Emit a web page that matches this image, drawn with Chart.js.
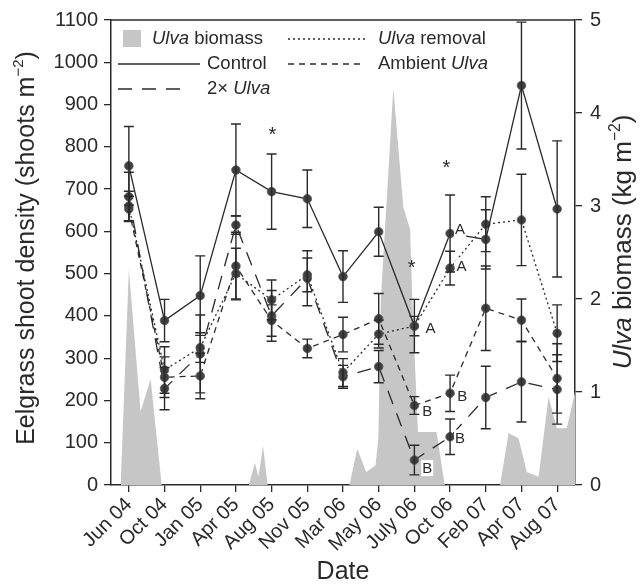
<!DOCTYPE html>
<html>
<head>
<meta charset="utf-8">
<script src="https://cdn.jsdelivr.net/npm/chart.js@4"></script>
<style>
  html, body { margin: 0; padding: 0; background: #fff; }
</style>
</head>
<body>
<canvas id="chart" width="643" height="585"></canvas>
<script>
// sampling dates (category axis)
const dates = ['Jun 04', 'Oct 04', 'Jan 05', 'Apr 05', 'Aug 05', 'Nov 05', 'Mar 06',
               'May 06', 'July 06', 'Oct 06', 'Feb 07', 'Apr 07', 'Aug 07'];

// eelgrass shoot density (shoots m-2), mean and error
const control    = [755, 389, 448, 745, 694, 677, 493, 599, 376, 595, 581, 945, 653];
const controlErr = [93, 50, 94, 109, 89, 68, 61, 58, 63, 91, 70, 150, 161];
const removal    = [660, 272, 325, 500, 438, 497, 266, 357, 376, 513, 617, 627, 359];
const removalErr = [35, 55, 35, 60, 47, 40, 33, 33, 23, 40, 65, 108, 67];
const ambient    = [653, 255, 258, 518, 389, 323, 356, 393, 188, 217, 418, 390, 252];
const ambientErr = [30, 48, 54, 80, 37, 22, 41, 60, 21, 43, 100, 50, 82];
const twoX       = [682, 228, 310, 615, 400, 489, 256, 280, 59, 114, 207, 244, 226];
const twoXErr    = [58, 50, 92, 22, 60, 65, 27, 38, 35, 42, 74, 95, 82];

// Ulva biomass (kg m-2); x given in date-index units
const ulvaX = [-0.23, 0.0, 0.33, 0.61, 0.92, 3.36, 3.53, 3.63, 3.76, 3.89, 6.18, 6.40, 6.65,
               6.91, 6.99, 7.06, 7.41, 7.69, 7.88, 7.96, 8.10, 8.62, 8.85, 10.40, 10.64,
               10.92, 11.15, 11.48, 11.76, 11.99, 12.27, 12.5];
const ulvaY = [0, 2.32, 0.79, 1.14, 0, 0, 0.24, 0.09, 0.42, 0, 0, 0.39, 0.14,
               0.21, 0.5, 2.0, 4.27, 2.99, 2.75, 1.8, 0.57, 0.57, 0, 0, 0.56,
               0.50, 0.14, 0.09, 0.95, 0.61, 0.61, 1.0];

// significance marks and letters
const starX = [4.02, 7.92, 8.9];
const starY = [840, 525, 762];
const letterText = ['A', 'A', 'A', 'B', 'B', 'B', 'B'];
const letterX = [8.45, 9.28, 9.32, 8.36, 8.36, 9.34, 9.28];
const letterY = [371, 605, 519, 175, 40, 211, 112];

const FONT = '"Liberation Sans", Arial, Helvetica, sans-serif';
const INK = '#2a2a2a';
const GREY = '#c6c6c6';
Chart.defaults.font.family = FONT;
Chart.defaults.color = INK;

function series(label, data, errors, dash) {
  return {
    label, data, errors,
    xAxisID: 'x', yAxisID: 'y',
    borderColor: INK, borderWidth: 1.3, borderDash: dash,
    pointRadius: 4.3, pointBackgroundColor: '#3f3f3f',
    pointBorderColor: '#5a5a5a', pointBorderWidth: 0.8,
    tension: 0, fill: false, order: 1
  };
}

// draw text made of plain / italic / superscript runs
function drawRich(ctx, parts, x, y, size, align) {
  const fontOf = p => `${p.it ? 'italic ' : ''}${p.sup ? size * 0.6 : size}px ${FONT}`;
  let total = 0;
  parts.forEach(p => { ctx.font = fontOf(p); p.w = ctx.measureText(p.t).width; total += p.w; });
  let cx = align === 'center' ? x - total / 2 : x;
  ctx.textAlign = 'left';
  ctx.textBaseline = 'middle';
  parts.forEach(p => {
    ctx.font = fontOf(p);
    ctx.fillText(p.t, cx, p.sup ? y - size * 0.32 : y);
    cx += p.w;
  });
}

const extras = {
  id: 'extras',
  afterDatasetsDraw(chart) {
    const { ctx, chartArea: a } = chart;
    const ys = chart.scales.y, xb = chart.scales.xb;
    ctx.save();

    // error bars
    ctx.strokeStyle = INK;
    ctx.lineWidth = 1.4;
    ctx.setLineDash([]);
    chart.data.datasets.forEach((ds, di) => {
      if (!ds.errors) return;
      chart.getDatasetMeta(di).data.forEach((pt, i) => {
        const v = ds.data[i], e = ds.errors[i];
        const t = ys.getPixelForValue(v + e), b = ys.getPixelForValue(v - e);
        ctx.beginPath();
        ctx.moveTo(pt.x, t); ctx.lineTo(pt.x, b);
        ctx.moveTo(pt.x - 5, t); ctx.lineTo(pt.x + 5, t);
        ctx.moveTo(pt.x - 5, b); ctx.lineTo(pt.x + 5, b);
        ctx.stroke();
      });
    });

    // top frame line
    ctx.lineWidth = 1.5;
    ctx.beginPath();
    ctx.moveTo(a.left, a.top); ctx.lineTo(a.right, a.top);
    ctx.stroke();

    // asterisks
    ctx.fillStyle = INK;
    ctx.font = `20px ${FONT}`;
    ctx.textAlign = 'center';
    ctx.textBaseline = 'alphabetic';
    starX.forEach((sx, i) => {
      ctx.fillText('*', xb.getPixelForValue(sx), ys.getPixelForValue(starY[i]) + 11);
    });

    // letters with white backing
    ctx.font = `15px ${FONT}`;
    ctx.textBaseline = 'middle';
    letterText.forEach((t, i) => {
      const px = xb.getPixelForValue(letterX[i]), py = ys.getPixelForValue(letterY[i]);
      ctx.fillStyle = '#fff';
      ctx.fillRect(px - 6, py - 8, 12, 16);
      ctx.fillStyle = INK;
      ctx.fillText(t, px, py + 1);
    });

    // axis titles
    ctx.save();
    ctx.translate(27, 248);
    ctx.rotate(-Math.PI / 2);
    drawRich(ctx, [{ t: 'Eelgrass shoot density (shoots m' }, { t: '\u22122', sup: true }, { t: ')' }], 0, 0, 25, 'center');
    ctx.restore();
    ctx.save();
    ctx.translate(624, 242);
    ctx.rotate(-Math.PI / 2);
    drawRich(ctx, [{ t: 'Ulva', it: true }, { t: ' biomass (kg m' }, { t: '\u22122', sup: true }, { t: ')' }], 0, 0, 26, 'center');
    ctx.restore();

    // legend
    const L = a.left, T = a.top;
    const sets = chart.data.datasets;
    const seg = (ds, x0, x1, y) => {
      ctx.strokeStyle = ds.borderColor;
      ctx.lineWidth = ds.borderWidth;
      ctx.setLineDash(ds.borderDash || []);
      ctx.beginPath(); ctx.moveTo(x0, y); ctx.lineTo(x1, y); ctx.stroke();
      ctx.setLineDash([]);
    };
    ctx.fillStyle = GREY;
    ctx.fillRect(L + 12, T + 10, 18, 17);
    ctx.fillStyle = INK;
    drawRich(ctx, [{ t: 'Ulva', it: true }, { t: ' biomass' }], L + 41, T + 19, 18.5);
    seg(sets[1], L + 7, L + 89, T + 44);
    drawRich(ctx, [{ t: 'Control' }], L + 96, T + 44, 18.5);
    seg(sets[4], L + 7, L + 79, T + 69);
    drawRich(ctx, [{ t: '2\u00d7 ' }, { t: 'Ulva', it: true }], L + 96, T + 69, 18.5);
    seg(sets[2], L + 177, L + 254, T + 19);
    drawRich(ctx, [{ t: 'Ulva', it: true }, { t: ' removal' }], L + 267, T + 19, 18.5);
    seg(sets[3], L + 177, L + 254, T + 44);
    drawRich(ctx, [{ t: 'Ambient ' }, { t: 'Ulva', it: true }], L + 267, T + 44, 18.5);

    ctx.restore();
  }
};

new Chart(document.getElementById('chart'), {
  type: 'line',
  data: {
    labels: dates,
    datasets: [
      {
        label: 'Ulva biomass',
        data: ulvaX.map((x, i) => ({ x, y: ulvaY[i] })),
        xAxisID: 'xb', yAxisID: 'y2',
        backgroundColor: GREY, borderColor: 'rgba(0,0,0,0)', borderWidth: 0,
        pointRadius: 0, fill: 'origin', tension: 0, order: 5
      },
      series('Control', control, controlErr, []),
      series('Ulva removal', removal, removalErr, [2, 3]),
      series('Ambient Ulva', ambient, ambientErr, [6, 5]),
      series('2x Ulva', twoX, twoXErr, [14, 10])
    ]
  },
  options: {
    responsive: false,
    animation: false,
    layout: { padding: { top: 20, right: 0, bottom: 0, left: 0 } },
    plugins: { legend: { display: false }, tooltip: { enabled: false } },
    scales: {
      x: {
        type: 'category', position: 'bottom', offset: true,
        grid: { drawOnChartArea: false, drawTicks: true, tickLength: 7, color: INK, lineWidth: 1.3 },
        border: { display: true, color: INK, width: 1.5 },
        ticks: { color: INK, font: { size: 20 }, minRotation: 45, maxRotation: 45, autoSkip: false, padding: 1 },
        title: { display: true, text: 'Date', color: INK, font: { size: 25, lineHeight: 1 }, padding: 0 },
        afterFit: s => { s.height = 100; }
      },
      xb: { type: 'linear', min: -0.5, max: 12.5, display: false },
      y: {
        position: 'left', min: 0, max: 1100,
        grid: { drawOnChartArea: false, drawTicks: true, tickLength: 7, color: INK, lineWidth: 1.3 },
        border: { display: true, color: INK, width: 1.5 },
        ticks: { stepSize: 100, color: INK, font: { size: 20 }, padding: 6, callback: v => String(v) },
        afterFit: s => { s.width = 111; }
      },
      y2: {
        position: 'right', min: 0, max: 5,
        grid: { drawOnChartArea: false, drawTicks: true, tickLength: 7, color: INK, lineWidth: 1.3 },
        border: { display: true, color: INK, width: 1.5 },
        ticks: { stepSize: 1, color: INK, font: { size: 20 }, padding: 8, callback: v => String(v) },
        afterFit: s => { s.width = 68; }
      }
    }
  },
  plugins: [extras]
});
</script>
</body>
</html>
